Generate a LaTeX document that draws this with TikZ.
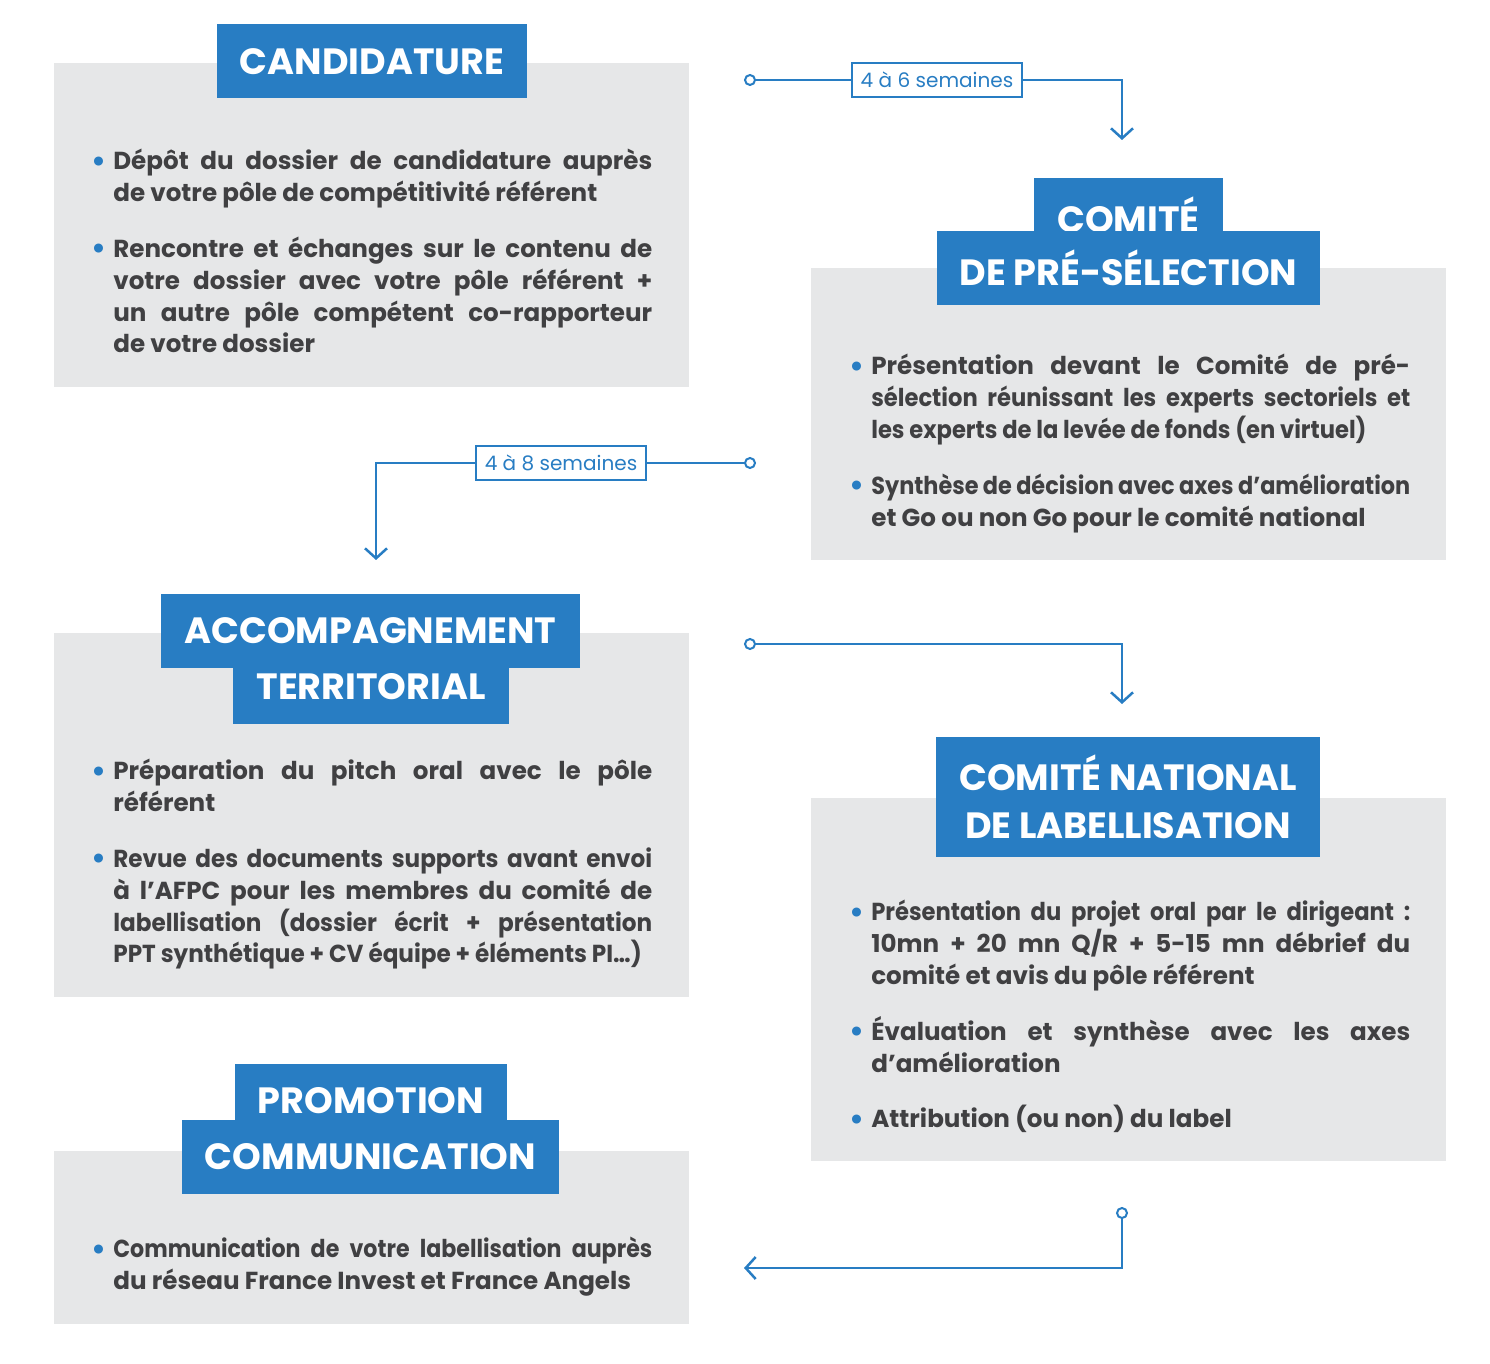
\documentclass[tikz,border=0pt]{standalone}
\usepackage{fontspec}
\setmainfont{Poppins}
\usetikzlibrary{positioning,arrows.meta}
\definecolor{pblue}{HTML}{287DC3}
\definecolor{pgray}{HTML}{E6E7E8}
\definecolor{ptext}{HTML}{404042}
\setlength{\parindent}{0pt}
\hyphenpenalty=10000
\exhyphenpenalty=10000
\tolerance=9999
\newcommand{\bul}{\noindent\llap{\textcolor{pblue}{\raisebox{-0.06em}{\fontsize{17}{17}\selectfont\textbullet}}\hspace{4pt}}}
\newcommand{\gap}{\par\vspace{0.48cm}}
\tikzset{
  panel/.style ={rectangle, fill=pgray, anchor=north west, inner sep=0pt, minimum width=12.7cm},
  ttl/.style   ={rectangle, fill=pblue, text=white, font=\fontsize{20.8}{27.2}\selectfont\bfseries, inner xsep=0.46cm, minimum height=1.48cm, align=center},
  txt/.style   ={anchor=north west, inner sep=0pt, text width=10.78cm, align=justify, text=ptext,
                 font=\fontsize{14}{18.1}\selectfont\bfseries},
  lbl/.style   ={draw=pblue, line width=0.04cm, fill=white, text=pblue, font=\fontsize{11.4}{13}\selectfont, inner xsep=0.16cm, minimum height=0.68cm, minimum width=3.4cm},
  dot/.style   ={circle, draw=pblue, line width=0.04cm, fill=white, minimum size=0.2cm, inner sep=0pt},
  ln/.style    ={draw=pblue, line width=0.05cm},
  arr/.style   ={ln, -{Straight Barb[length=2mm, width=4.4mm]}},
}

\begin{document}
\begin{tikzpicture}[x=0.02cm, y=-0.02cm]
  \useasboundingbox (0,0) rectangle (1490,1364);

  % grey panels
  \node[panel, minimum height=6.48cm] (p1) at (54,63) {};
  \node[panel, minimum height=5.84cm] (p2) at (811,268) {};
  \node[panel, minimum height=7.28cm] (p3) at (54,633) {};
  \node[panel, minimum height=7.26cm] (p4) at (811,798) {};
  \node[panel, minimum height=3.46cm] (p5) at (54,1151) {};

  % titles
  \node[ttl] (t1) at (372,61.5) {CANDIDATURE};
  \node[ttl] (t2a) at (1128.5,215) {COMITÉ};
  \node[ttl] (t2b) at (1128.5,268) {DE PRÉ-SÉLECTION};
  \node[ttl] (t3b) at (371,687) {TERRITORIAL};
  \node[ttl] (t3a) at (370.5,631) {ACCOMPAGNEMENT};
  \node[ttl, minimum height=2.4cm] (t4) at (1128,797) {COMITÉ NATIONAL\\DE LABELLISATION};
  \node[ttl] (t5a) at (371,1101) {PROMOTION};
  \node[ttl] (t5b) at (370.5,1157) {COMMUNICATION};

  % bullet texts
  \node[txt] (x1) at (113,149) {\bul Dépôt du dossier de candidature auprès\linebreak de votre pôle de compétitivité référent\gap
    \bul Rencontre et échanges sur le contenu de\linebreak votre dossier avec votre pôle référent +\linebreak un autre pôle compétent co-rapporteur\linebreak de votre dossier};
  \node[txt] (x2) at (871,354) {\bul Présentation devant le Comité de pré-\linebreak
    {\addfontfeature{FakeStretch=0.92}sélection réunissant les experts sectoriels et\linebreak les experts de la levée de fonds (en virtuel)}\gap
    \bul {\addfontfeature{FakeStretch=0.91}Synthèse de décision avec axes d’amélioration}\linebreak et Go ou non Go pour le comité national};
  \node[txt] (x3) at (113,759) {\bul Préparation du pitch oral avec le pôle\linebreak référent\gap
    \bul {\addfontfeature{FakeStretch=0.94}Revue des documents supports avant envoi}\linebreak à l’AFPC pour les membres du comité de\linebreak
    {\addfontfeature{FakeStretch=0.94}labellisation (dossier écrit + présentation\linebreak PPT synthétique + CV équipe + éléments PI…)}};
  \node[txt] (x4) at (871,900) {\bul {\addfontfeature{FakeStretch=0.92}Présentation du projet oral par le dirigeant :}\linebreak 10mn + 20 mn Q/R + 5-15 mn débrief du\linebreak comité et avis du pôle référent\gap
    \bul Évaluation et synthèse avec les axes\linebreak d’amélioration\gap
    \bul Attribution (ou non) du label};
  \node[txt] (x5) at (113,1237) {\bul {\addfontfeature{FakeStretch=0.9}Communication de votre labellisation auprès}\linebreak du réseau France Invest et France Angels};

  % connectors
  \node[dot] (s1) at (750,80) {};
  \node[lbl] (d1) at (937,80) {4 à 6 semaines};
  \coordinate (e1) at (1122,140);
  \draw[ln] (s1) -- (d1);
  \draw[arr] (d1) -| (e1);

  \node[dot] (s2) at (750,463) {};
  \node[lbl] (d2) at (561,463) {4 à 8 semaines};
  \coordinate (e2) at (376,560);
  \draw[ln] (s2) -- (d2);
  \draw[arr] (d2) -| (e2);

  \node[dot] (s3) at (750,644) {};
  \coordinate (e3) at (1122,704);
  \draw[arr] (s3) -| (e3);

  \node[dot] (s4) at (1122,1213) {};
  \coordinate (e4) at (744,1268);
  \draw[arr] (s4) |- (e4);
\end{tikzpicture}
\end{document}
